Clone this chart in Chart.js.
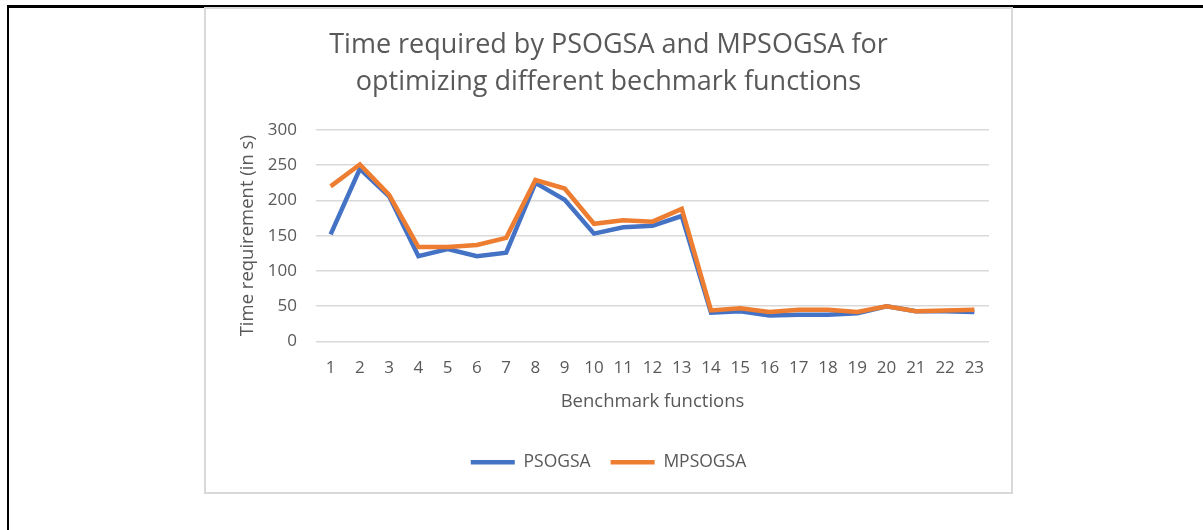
<!DOCTYPE html>
<html>
<head>
<meta charset="utf-8">
<script src="https://cdn.jsdelivr.net/npm/chart.js"></script>
<style>
  html, body { margin: 0; padding: 0; background: #fff; }
  body { width: 1203px; height: 530px; position: relative; overflow: hidden; }
  /* black frame, only top and left edges are visible */
  .frame { position: absolute; left: 7px; top: 5px; width: 1300px; height: 600px;
           border-left: 2.5px solid #000; border-top: 3px solid #000; }
  .box { position: absolute; left: 204px; top: 7px; width: 805px; height: 483px;
         border: 2px solid #d9d9d9; background: #fff; }
  .box canvas { display: block; }
</style>
</head>
<body>
<div class="frame"></div>
<div class="box"><canvas id="chart" width="805" height="483"></canvas></div>
<script>
// data
const functions = ['1','2','3','4','5','6','7','8','9','10','11','12','13','14','15','16','17','18','19','20','21','22','23'];
const psogsa  = [152, 245, 206, 121, 131, 121, 126, 225, 201, 153, 162, 164, 178, 41, 43, 37, 38, 38, 40, 50, 43, 43, 42];
const mpsogsa = [220, 251, 208, 134, 134, 137, 147, 229, 217, 167, 172, 170, 188, 44, 47, 42, 45, 45, 42, 50, 43, 44, 45];
const yTicks  = [0, 50, 100, 150, 200, 250, 300];

const textColor = '#595959';
const fontFamily = '"Open Sans", "Noto Sans", sans-serif';

const ctx = document.getElementById('chart').getContext('2d');
new Chart(ctx, {
  type: 'line',
  data: {
    labels: functions,
    datasets: [
      { label: 'PSOGSA', data: psogsa, borderColor: '#4472C4', backgroundColor: '#4472C4',
        borderWidth: 4.5, pointRadius: 0, tension: 0, order: 1 },
      { label: 'MPSOGSA', data: mpsogsa, borderColor: '#ED7D31', backgroundColor: '#ED7D31',
        borderWidth: 4.5, pointRadius: 0, tension: 0, order: 0 }
    ]
  },
  options: {
    responsive: false,
    animation: false,
    // symmetric side padding keeps title and legend centred on the box
    layout: { padding: { left: 11, right: 11, top: 0, bottom: 11 } },
    plugins: {
      tooltip: { enabled: false },
      title: {
        display: true,
        text: ['Time required by PSOGSA and MPSOGSA for', 'optimizing different bechmark functions'],
        color: textColor,
        font: { family: fontFamily, size: 27, weight: 'normal', lineHeight: 1.37 },
        padding: { top: 17.5, bottom: 29.5 }
      },
      legend: {
        position: 'bottom',
        reverse: true,
        labels: {
          usePointStyle: true,
          pointStyle: 'line',
          pointStyleWidth: 44,
          padding: 20,
          color: textColor,
          font: { family: fontFamily, size: 17.5 }
        }
      }
    },
    scales: {
      x: {
        offset: true,
        grid: { display: false, drawTicks: false },
        border: { display: false },
        ticks: { color: textColor, padding: 16, maxRotation: 0, autoSkip: false,
                 font: { family: fontFamily, size: 17 } },
        title: { display: true, text: 'Benchmark functions', color: textColor,
                 font: { family: fontFamily, size: 18.5 }, padding: { top: 0, bottom: 21 } },
        afterFit: (scale) => { scale.height = 92; }
      },
      y: {
        min: 0,
        max: 300,
        afterBuildTicks: (scale) => { scale.ticks = yTicks.map(v => ({ value: v })); },
        grid: { color: '#d9d9d9', lineWidth: 1.5, drawTicks: false },
        border: { display: false },
        ticks: { color: textColor, padding: 19, font: { family: fontFamily, size: 17 } },
        title: { display: true, text: 'Time requirement (in s)', color: textColor,
                 font: { family: fontFamily, size: 18.5 }, padding: { top: 20, bottom: 0 } },
        afterFit: (scale) => { scale.width = 99; }
      },
      // empty spacer on the right so the plot ends where the reference does
      spacer: {
        type: 'linear',
        position: 'right',
        grid: { display: false, drawTicks: false },
        border: { display: false },
        ticks: { display: false },
        afterFit: (scale) => { scale.width = 11; }
      }
    }
  }
});
</script>
</body>
</html>
